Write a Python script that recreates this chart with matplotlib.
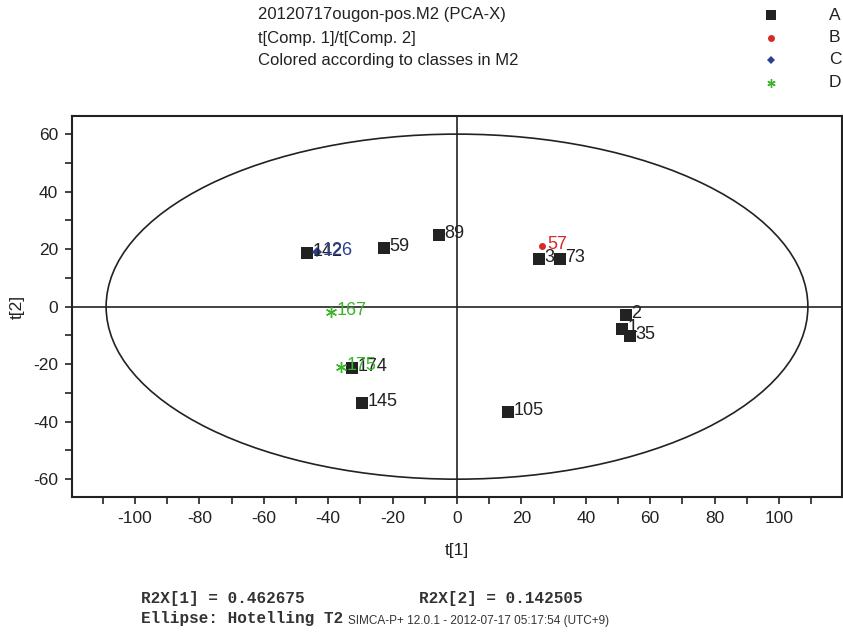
import numpy as np
import matplotlib
matplotlib.use('Agg')
import matplotlib.pyplot as plt
from matplotlib.patches import Ellipse

plt.rcParams['font.family'] = ['Liberation Sans', 'DejaVu Sans']
plt.rcParams['axes.unicode_minus'] = False

# scores t[1], t[2] per class
a_ids = ['142', '59', '89', '3', '73', '2', '1', '35', '174', '145', '105']
a_t1 = [-46.6, -22.6, -5.6, 25.5, 32.0, 52.4, 51.2, 53.7, -32.7, -29.6, 15.9]
a_t2 = [18.7, 20.4, 24.8, 16.6, 16.5, -2.9, -7.8, -10.1, -21.4, -33.6, -36.5]

b_ids = ['57']
b_t1 = [26.4]
b_t2 = [21.1]

c_ids = ['126']
c_t1 = [-43.4]
c_t2 = [18.9]

d_ids = ['167', '175']
d_t1 = [-39.2, -36.1]
d_t2 = [-1.9, -21.1]

# Hotelling T2 ellipse semi-axes
ell_t1 = 109.0
ell_t2 = 60.0

r2x = [0.462675, 0.142505]
xticks = [-100, -80, -60, -40, -20, 0, 20, 40, 60, 80, 100]
yticks = [-60, -40, -20, 0, 20, 40, 60]

fig = plt.figure(figsize=(8.43, 6.34), dpi=100)
ax = fig.add_axes([72/843, 1 - 497/634, 770/843, 381/634])

ax.set_xlim(-119.6, 119.6)
ax.set_ylim(-66.2, 66.3)

ax.axhline(0, color='#222222', lw=1.2, zorder=1)
ax.axvline(0, color='#222222', lw=1.2, zorder=1)
ax.add_patch(Ellipse((0, 0), 2 * ell_t1, 2 * ell_t2, fill=False,
                     ec='#222222', lw=1.2, zorder=1))

groups = [
    (a_ids, a_t1, a_t2, 's', '#222222', 8),
    (b_ids, b_t1, b_t2, 'o', '#d42a2a', 5),
    (c_ids, c_t1, c_t2, 'D', '#2b3f95', 5),
    (d_ids, d_t1, d_t2, '*', '#3cb52c', 8),
]
for ids, xs, ys, mk, col, ms in groups:
    if mk == '*':
        ax.plot(xs, ys, ls='none', marker=(6, 2, 0), color=col, ms=ms,
                mew=1.0, zorder=3)
    else:
        ax.plot(xs, ys, ls='none', marker=mk, color=col, ms=ms, mew=0,
                zorder=3)
    for lab, x, y in zip(ids, xs, ys):
        ax.annotate(lab, (x, y), xytext=(4, 1), textcoords='offset points',
                    ha='left', va='center', fontsize=13, color=col, zorder=4)

for s in ax.spines.values():
    s.set_color('#222222')
    s.set_linewidth(1.5)

ax.set_xticks(xticks)
ax.set_yticks(yticks)
ax.set_xticks(np.arange(-110, 111, 10), minor=True)
ax.set_yticks(np.arange(-50, 51, 10), minor=True)
ax.tick_params(axis='both', which='both', direction='out', color='#222222',
               width=1.2, labelsize=12.5, labelcolor='#222222')
ax.tick_params(which='major', length=5, pad=5)
ax.tick_params(which='minor', length=5)
ax.set_xlabel('t[1]', fontsize=12.5, color='#222222', labelpad=12)
ax.set_ylabel('t[2]', fontsize=12.5, color='#222222', labelpad=6)

# header text
fig.text(258/843, 1 - 14/634, '20120717ougon-pos.M2 (PCA-X)', fontsize=12,
         va='center', color='#222222')
fig.text(258/843, 1 - 38/634, 't[Comp. 1]/t[Comp. 2]', fontsize=12,
         va='center', color='#222222')
fig.text(258/843, 1 - 61/634, 'Colored according to classes in M2', fontsize=12,
         va='center', color='#222222')

# legend
leg_rows = [('A', 's', '#222222', 7), ('B', 'o', '#d42a2a', 5),
            ('C', 'D', '#2b3f95', 4.5), ('D', (6, 2, 0), '#3cb52c', 6)]
for i, (name, mk, col, ms) in enumerate(leg_rows):
    yy = 1 - (15 + 22.5 * i) / 634
    fig.lines.append(plt.Line2D([771/843], [yy], transform=fig.transFigure,
                                marker=mk, color=col, ms=ms, ls='none',
                                mew=1.0 if mk == (6, 2, 0) else 0))
    fig.text(829/843, yy, name, fontsize=12.5, va='center', color='#222222')

# footer
mono = dict(family='Liberation Mono', fontsize=11.5, fontweight='bold',
            va='center', color='#333333')
fig.text(141/843, 1 - 598/634, 'R2X[1] = {:.6f}'.format(r2x[0]), **mono)
fig.text(419/843, 1 - 598/634, 'R2X[2] = {:.6f}'.format(r2x[1]), **mono)
fig.text(141/843, 1 - 619/634, 'Ellipse: Hotelling T2', **mono)
fig.text(348/843, 1 - 621/634, 'SIMCA-P+ 12.0.1 - 2012-07-17 05:17:54 (UTC+9)',
         fontsize=8.5, va='center', color='#333333')

fig.savefig('out.png', dpi=100)
